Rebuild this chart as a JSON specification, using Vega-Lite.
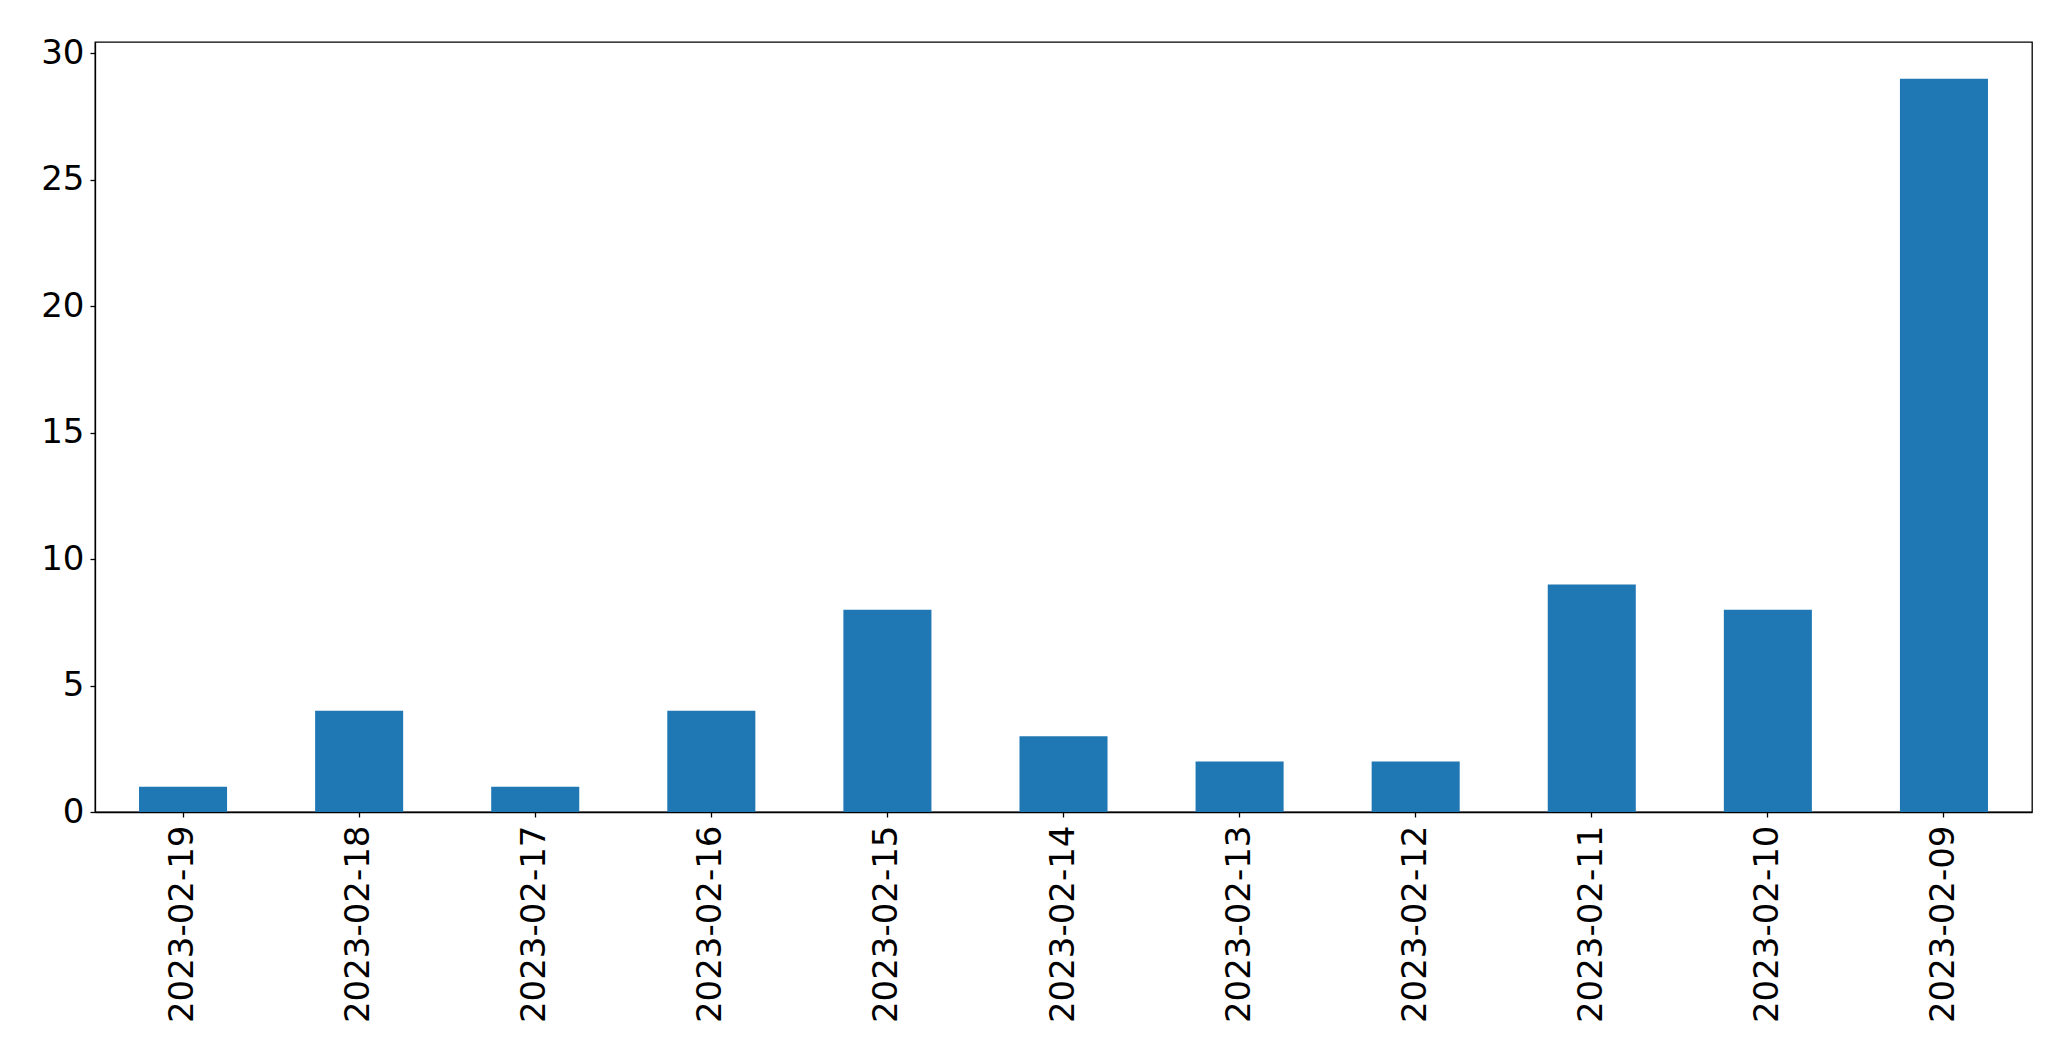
{
  "$schema": "https://vega.github.io/schema/vega-lite/v6.json",
  "autosize": {"type": "none"},
  "padding": {"left": 95, "top": 42, "right": 39, "bottom": 252},
  "width": 1937,
  "height": 770,
  "background": "white",
  "config": {
    "view": {"stroke": "#000000", "strokeWidth": 1.3},
    "axis": {
      "labelFont": "DejaVu Sans",
      "labelFontSize": 34,
      "labelColor": "#000000",
      "labelLimit": 0,
      "tickColor": "#000000",
      "tickSize": 5,
      "tickWidth": 1.3,
      "domainColor": "#000000",
      "domainWidth": 1.3,
      "grid": false,
      "title": null
    }
  },
  "data": {
    "values": [
      {"date": "2023-02-19", "count": 1},
      {"date": "2023-02-18", "count": 4},
      {"date": "2023-02-17", "count": 1},
      {"date": "2023-02-16", "count": 4},
      {"date": "2023-02-15", "count": 8},
      {"date": "2023-02-14", "count": 3},
      {"date": "2023-02-13", "count": 2},
      {"date": "2023-02-12", "count": 2},
      {"date": "2023-02-11", "count": 9},
      {"date": "2023-02-10", "count": 8},
      {"date": "2023-02-09", "count": 29}
    ]
  },
  "mark": {"type": "bar", "color": "#1f77b4"},
  "encoding": {
    "x": {
      "field": "date",
      "type": "nominal",
      "sort": null,
      "scale": {"paddingInner": 0.5, "paddingOuter": 0.25},
      "axis": {"labelAngle": -90, "labelPadding": 8}
    },
    "y": {
      "field": "count",
      "type": "quantitative",
      "scale": {"domain": [0, 30.45], "nice": false, "zero": true},
      "axis": {"values": [0, 5, 10, 15, 20, 25, 30], "labelPadding": 6}
    }
  }
}
